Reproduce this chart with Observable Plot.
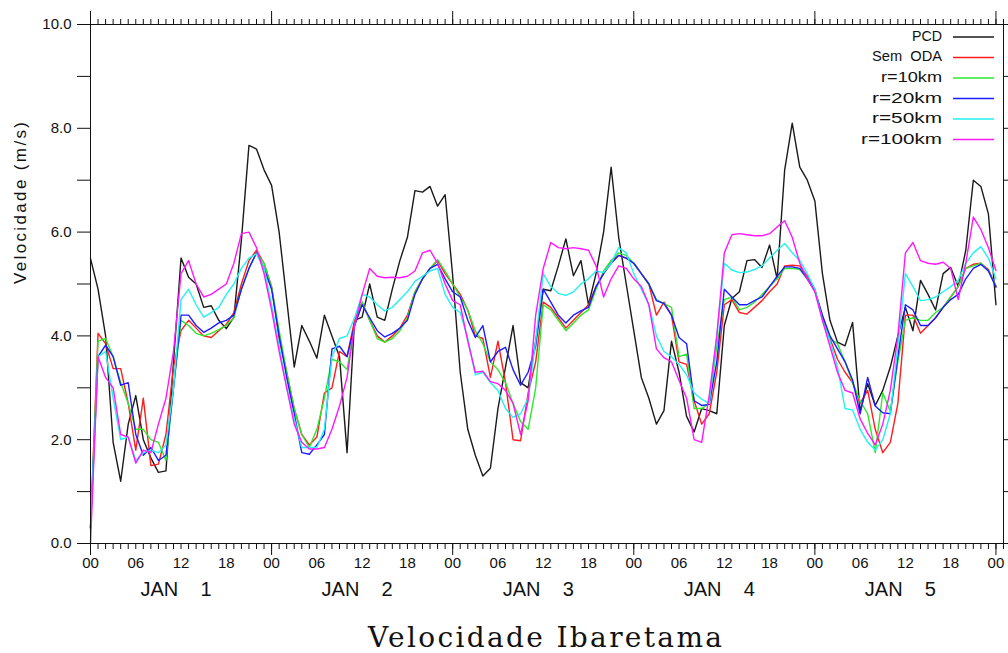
<!DOCTYPE html>
<html><head><meta charset="utf-8">
<script src="https://cdn.jsdelivr.net/npm/d3@7"></script>
<script src="https://cdn.jsdelivr.net/npm/@observablehq/plot@0.6"></script>
<style>
body{margin:0;background:#fff;}
#wrap{position:relative;width:1008px;height:653px;}
#wrap svg{display:block;}
#legend{position:absolute;left:0;top:0;}
</style></head><body><div id="wrap"></div>
<script>
// hourly values, 00Z Jan 1 .. 00Z Jan 6 (121 points)
const pcd = [
 5.49,4.9,4.0,1.95,1.2,2.3,2.85,2.0,1.65,1.37,1.4,3.5,5.5,5.13,5.0,4.55,4.58,4.3,4.14,4.36,5.85,7.67,7.6,7.2,6.9,
 6.0,4.7,3.4,4.2,3.9,3.57,4.4,4.0,3.6,1.75,4.3,4.36,5.0,4.36,4.3,4.9,5.45,5.9,6.8,6.77,6.88,6.5,6.72,5.16,
 3.3,2.2,1.7,1.3,1.45,2.6,3.4,4.2,3.1,3.0,3.9,4.9,4.87,5.35,5.87,5.16,5.45,4.6,5.2,6.0,7.25,5.9,5.0,4.1,
 3.2,2.8,2.3,2.56,3.9,3.3,2.45,2.15,2.6,2.56,2.5,4.2,4.72,4.85,5.45,5.47,5.32,5.75,5.1,7.2,8.1,7.25,7.0,6.6,
 5.2,4.3,3.88,3.81,4.26,2.55,3.08,2.66,2.95,3.4,4.0,4.55,4.1,5.07,4.8,4.5,5.2,5.32,4.95,5.65,7.0,6.88,6.35,4.6
];
const semOda = [
 0.3,4.05,3.85,3.37,3.37,2.7,1.8,2.8,1.5,1.53,2.1,3.4,4.1,4.3,4.15,4.0,3.97,4.1,4.22,4.45,5.0,5.45,5.65,5.4,4.95,
 3.95,3.3,2.6,2.1,1.9,2.05,2.9,3.0,3.7,3.6,4.3,4.65,4.3,4.0,3.88,4.0,4.15,4.4,4.85,5.1,5.3,5.45,5.2,5.0,
 4.8,4.5,4.0,3.95,3.2,3.9,3.1,2.0,1.98,2.9,3.5,4.65,4.55,4.35,4.15,4.3,4.45,4.6,4.95,5.2,5.45,5.55,5.5,5.4,
 5.2,5.0,4.4,4.65,4.4,3.5,3.45,2.75,2.3,2.5,3.3,4.6,4.7,4.45,4.42,4.55,4.68,4.85,5.0,5.35,5.36,5.35,5.15,4.9,
 4.35,3.95,3.55,3.3,3.1,2.7,2.95,2.2,1.75,1.95,2.7,4.4,4.4,4.05,4.2,4.35,4.55,4.75,4.95,5.3,5.38,5.4,5.28,4.95
];
const r10 = [
 0.3,3.9,3.95,3.6,3.1,2.7,2.2,2.2,2.0,1.95,1.6,3.0,4.3,4.2,4.05,4.0,4.05,4.12,4.2,4.35,4.9,5.3,5.6,5.4,4.95,
 4.1,3.3,2.6,2.1,1.85,2.2,2.8,3.55,3.5,3.35,4.2,4.65,4.3,3.95,3.88,3.95,4.1,4.35,4.85,5.1,5.3,5.47,5.25,5.0,
 4.75,4.5,4.1,3.85,3.5,3.35,3.1,2.7,2.35,2.2,3.0,4.6,4.5,4.3,4.1,4.25,4.4,4.5,4.9,5.25,5.45,5.6,5.55,5.4,
 5.2,5.0,4.7,4.62,4.55,3.6,3.65,2.6,2.6,2.7,3.8,4.7,4.75,4.5,4.55,4.65,4.8,4.95,5.1,5.3,5.3,5.28,5.1,4.87,
 4.4,3.95,3.85,3.5,3.1,2.75,2.5,1.75,2.9,2.55,3.5,4.3,4.35,4.3,4.3,4.45,4.55,4.75,4.95,5.3,5.35,5.4,5.25,4.97
];
const r20 = [
 0.3,3.6,3.82,3.6,3.05,3.1,2.1,1.7,1.85,1.6,1.7,3.0,4.4,4.4,4.2,4.07,4.15,4.25,4.3,4.4,4.9,5.3,5.6,5.3,4.9,
 4.0,3.2,2.5,1.75,1.72,1.9,2.1,3.75,3.8,3.6,4.2,4.6,4.35,4.1,3.98,4.05,4.15,4.3,4.8,5.1,5.3,5.38,5.1,4.85,
 4.75,4.3,3.97,4.2,3.5,3.7,3.78,3.35,3.05,3.3,3.8,4.9,4.65,4.4,4.25,4.4,4.48,4.55,4.95,5.2,5.4,5.55,5.5,5.4,
 5.2,5.0,4.68,4.62,4.4,3.97,3.85,2.75,2.66,2.68,3.5,4.9,4.75,4.6,4.6,4.68,4.75,4.95,5.15,5.33,5.33,5.3,5.1,4.87,
 4.4,4.0,3.75,3.5,3.15,2.5,3.2,2.65,2.52,2.5,3.6,4.6,4.5,4.2,4.2,4.35,4.55,4.7,4.8,5.1,5.3,5.38,5.25,4.94
];
const r50 = [
 0.3,3.6,3.7,2.8,2.0,2.05,1.6,1.75,1.8,1.75,1.9,3.0,4.7,4.9,4.6,4.36,4.45,4.55,4.8,5.0,5.3,5.5,5.58,5.3,4.6,
 3.8,3.0,2.4,1.85,1.85,1.85,2.2,3.6,3.95,4.0,4.35,4.8,4.75,4.6,4.48,4.55,4.7,4.85,5.05,5.15,5.25,5.3,4.8,4.55,
 4.45,3.95,3.25,3.3,3.1,2.95,2.6,2.43,2.5,2.8,3.9,5.2,4.95,4.82,4.78,4.85,5.0,5.1,5.25,5.22,5.4,5.7,5.6,5.2,
 4.9,4.6,4.0,3.7,3.6,3.45,3.25,2.9,2.78,2.7,4.0,5.4,5.27,5.22,5.23,5.28,5.35,5.5,5.65,5.78,5.6,5.45,5.2,4.9,
 4.3,3.9,3.4,2.6,2.57,2.2,1.95,1.8,2.0,2.5,3.8,5.2,4.95,4.68,4.7,4.75,4.85,4.95,5.07,5.4,5.6,5.72,5.5,5.1
];
const r100 = [
 0.0,3.6,3.2,3.0,2.1,2.05,1.55,1.8,1.75,2.3,2.8,3.7,5.2,5.45,5.0,4.75,4.8,4.9,5.0,5.4,5.97,6.0,5.7,5.2,4.5,
 3.7,3.0,2.3,1.95,1.82,1.82,1.85,2.2,2.65,3.2,4.2,4.8,5.3,5.15,5.12,5.13,5.12,5.15,5.25,5.6,5.65,5.4,5.0,4.68,
 4.6,3.9,3.3,3.32,3.12,3.08,2.95,2.7,2.1,2.75,4.4,5.3,5.8,5.7,5.68,5.7,5.68,5.65,5.35,4.75,5.1,5.35,5.3,5.1,
 4.95,4.6,3.75,3.58,3.5,3.14,2.8,2.0,1.95,2.85,4.0,5.6,5.95,5.97,5.95,5.93,5.93,5.97,6.1,6.22,5.9,5.4,5.1,4.85,
 4.3,3.8,3.3,2.95,2.9,2.4,2.12,1.9,2.3,2.95,4.0,5.6,5.8,5.45,5.4,5.38,5.42,5.3,4.7,5.4,6.29,6.05,5.7,5.26
];
const seriesNames = ["PCD","Sem\u00a0\u00a0ODA","r=10km","r=20km","r=50km","r=100km"];
const seriesColors = ["#1a1a1a","#ff1c1c","#2ee82e","#1c1cff","#22f2f2","#ff18ff"];
const seriesValues = [pcd, semOda, r10, r20, r50, r100];
const dayTicks = [0,24,48,72,96,120];
const hourTicks = d3.range(0,122);
const labelTicks = d3.range(0,121,6);
const dayLabelTicks = [12,36,60,84,108];
const yTicks = d3.range(0,11);
const yLabel = "Velocidade (m/s)";
const title = "Velocidade Ibaretama";

const table = seriesNames.flatMap((name,i)=> seriesValues[i].map((v,h)=>({series:name,h,v})));
const font = "'Liberation Sans', Arial, sans-serif";

const plot = Plot.plot({
  width:1008, height:615, marginLeft:90, marginRight:5, marginTop:24, marginBottom:72,
  style:{fontFamily:font, fontSize:"15px", color:"#111", background:"#fff", overflow:"visible"},
  x:{domain:[0,121]}, y:{domain:[0,10]},
  color:{domain:seriesNames, range:seriesColors},
  marks:[
    Plot.axisY(yTicks,{anchor:"left", tickSize:13, tickPadding:6, tickFormat:d=> d%2===0 ? d.toFixed(1) : "", label:null, fontSize:15}),
    Plot.axisY(yTicks,{anchor:"right", tickSize:5, tickFormat:()=>"", label:null}),
    Plot.axisX(hourTicks,{anchor:"bottom", tickSize:6, tickFormat:()=>"", label:null}),
    Plot.axisX(dayTicks,{anchor:"bottom", tickSize:12, tickFormat:()=>"", label:null}),
    Plot.axisX(labelTicks,{anchor:"bottom", tickSize:0, tickPadding:14, tickFormat:h=>String(h%24).padStart(2,"0"), label:null, fontSize:15}),
    Plot.axisX(dayLabelTicks,{anchor:"bottom", tickSize:0, tickPadding:38, dx:-5, tickFormat:h=>"JAN\u00a0\u00a0\u00a0\u00a0"+(Math.floor(h/24)+1), label:null, fontSize:20}),
    Plot.axisX(hourTicks,{anchor:"top", tickSize:6, tickFormat:()=>"", label:null}),
    Plot.axisX(dayTicks,{anchor:"top", tickSize:14, tickFormat:()=>"", label:null}),
    Plot.line(table,{x:"h", y:"v", z:"series", stroke:"series", strokeWidth:1.4}),
    Plot.frame({stroke:"#111"}),
    Plot.text([yLabel],{frameAnchor:"left", rotate:-90, dx:-70, fontSize:17})
  ]
});
const wrap = document.getElementById("wrap");
wrap.appendChild(plot);

// stretch y label to reference length
d3.select(plot).selectAll("text").filter(function(){return this.textContent===yLabel;})
  .attr("textLength",162).attr("lengthAdjust","spacing");

// legend
const lg = d3.select(wrap).append("svg").attr("id","legend").attr("width",1008).attr("height",160);
const lgWidths = [30,70,61,70,70,81];
const lgSizes = [14,14,14,15.5,15.5,15.5];
seriesNames.forEach((name,i)=>{
  const y = 37 + 20.5*i;
  lg.append("text").attr("x",942).attr("y",y).attr("text-anchor","end").attr("dominant-baseline","middle")
    .attr("font-family",font).attr("font-size",lgSizes[i]).attr("fill","#111")
    .attr("textLength",lgWidths[i]).attr("lengthAdjust","spacingAndGlyphs").text(name);
  lg.append("line").attr("x1",953).attr("x2",994).attr("y1",y).attr("y2",y)
    .attr("stroke",seriesColors[i]).attr("stroke-width",1.4);
});

// title below the chart
const ts = d3.select(wrap).append("svg").attr("width",1008).attr("height",38);
ts.append("text").attr("x",545).attr("y",32).attr("text-anchor","middle")
  .attr("font-family","'DejaVu Serif', 'Liberation Serif', serif").attr("font-size",28).attr("fill","#111")
  .attr("textLength",354).attr("lengthAdjust","spacing").text(title);
</script></body></html>
